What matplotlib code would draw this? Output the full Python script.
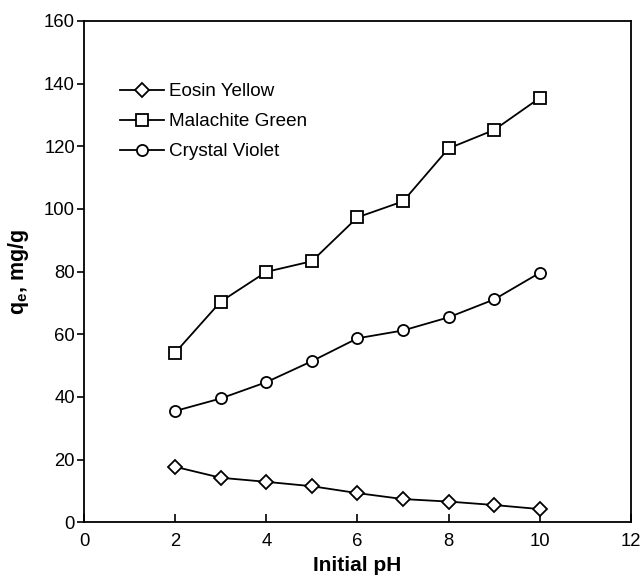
import matplotlib
matplotlib.use("Agg")
import matplotlib.pyplot as plt

plt.rcParams['font.family'] = ['Liberation Sans', 'DejaVu Sans']
plt.rcParams['mathtext.fontset'] = 'custom'
plt.rcParams['mathtext.rm'] = 'Liberation Sans'
plt.rcParams['mathtext.bf'] = 'Liberation Sans:bold'

ph = [2, 3, 4, 5, 6, 7, 8, 9, 10]
eosin_yellow = [17.7, 14.2, 12.9, 11.5, 9.3, 7.4, 6.6, 5.5, 4.2]
malachite_green = [54.1, 70.4, 79.9, 83.3, 97.3, 102.4, 119.3, 125.2, 135.4]
crystal_violet = [35.5, 39.5, 44.7, 51.4, 58.7, 61.2, 65.4, 71.1, 79.6]

x_ticks = [0, 2, 4, 6, 8, 10, 12]
y_ticks = [0, 20, 40, 60, 80, 100, 120, 140, 160]

fig = plt.figure(figsize=(6.42, 5.79), dpi=100)
ax = fig.add_axes([0.1308, 0.098, 0.852, 0.866])

style = dict(color='black', lw=1.3, markerfacecolor='white',
             markeredgecolor='black', markeredgewidth=1.3)
ax.plot(ph, eosin_yellow, marker='D', markersize=7, label='Eosin Yellow', **style)
ax.plot(ph, malachite_green, marker='s', markersize=8.5, label='Malachite Green', **style)
ax.plot(ph, crystal_violet, marker='o', markersize=8, label='Crystal Violet', **style)

ax.set_xlim(0, 12)
ax.set_ylim(0, 160)
ax.set_xticks(x_ticks)
ax.set_yticks(y_ticks)
ax.tick_params(axis='x', direction='in', length=6, width=1.2, labelsize=13.3, pad=8)
ax.tick_params(axis='y', direction='out', length=5, width=1.2, labelsize=13.3, pad=1.5)
for s in ax.spines.values():
    s.set_linewidth(1.3)

ax.set_xlabel('Initial pH', fontsize=15, fontweight='bold', labelpad=4)
ax.set_ylabel(r'$\mathbf{q_e}$, mg/g', fontsize=15.5, fontweight='bold', labelpad=9)

ax.legend(loc='upper left', bbox_to_anchor=(0.066, 0.876), frameon=False,
          fontsize=13.6, handlelength=2.3, handletextpad=0.3, labelspacing=0.68,
          borderaxespad=0, borderpad=0)

fig.savefig('out.png', dpi=100)
